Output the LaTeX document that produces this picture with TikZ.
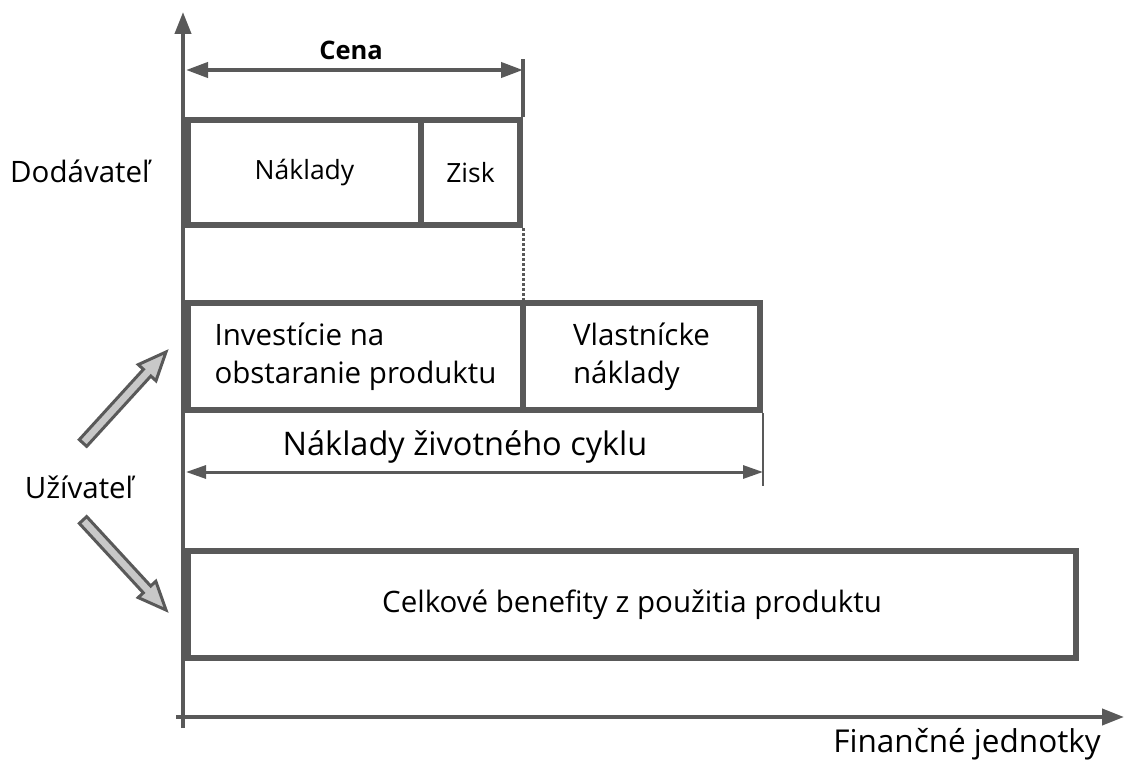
\documentclass[tikz,border=0pt]{standalone}
\usepackage{fontspec}
\setmainfont{Open Sans}
\usetikzlibrary{arrows.meta,calc}
\definecolor{ink}{HTML}{595959}
\definecolor{shaft}{HTML}{C8C8C8}

% thick outlined arrow from #1 (tail) to #2 (tip)
\newcommand\fatarrow[2]{%
  \path ($(#2)!28pt!(#1)$) coordinate (fa-b);
  \draw[hollow]
    ($(#1)!5pt!90:(#2)$) -- ($(fa-b)!5pt!90:(#2)$) -- ($(fa-b)!12pt!90:(#2)$)
    -- (#2)
    -- ($(fa-b)!12pt!-90:(#2)$) -- ($(fa-b)!5pt!-90:(#2)$) -- ($(#1)!5pt!-90:(#2)$)
    -- cycle;}

\begin{document}
\begin{tikzpicture}[x=1pt,y=-1pt,
  box/.style={draw=ink, line width=6pt, anchor=north west, inner sep=0pt,
              font=\fontsize{29.5}{38}\selectfont},
  smallbox/.style={box, font=\fontsize{26.5}{32}\selectfont},
  axis/.style={draw=ink, line width=4pt, -{Triangle[length=22pt,width=16pt]}},
  dim/.style={draw=ink, line width=4pt, {Triangle[length=22pt,width=15pt]}-{Triangle[length=22pt,width=15pt]}},
  thindim/.style={draw=ink, line width=3pt, {Triangle[length=20pt,width=13pt]}-{Triangle[length=20pt,width=13pt]}},
  label/.style={font=\fontsize{29.5}{38}\selectfont, inner sep=0pt},
  hollow/.style={draw=ink, fill=shaft, line width=3pt, line join=miter}]
\useasboundingbox (0,0) rectangle (1125,760);

% supplier: cost and profit
\node[smallbox, minimum width=233pt, minimum height=105pt] (naklady) at (185,117) {Náklady};
\node[smallbox, minimum width=99pt, minimum height=105pt] (zisk) at (418,117) {Zisk};

% user: acquisition and ownership costs
\node[box, minimum width=335pt, minimum height=107pt, align=left] (invest) at (185,300)
  {Investície na\\obstaranie produktu};
\node[box, minimum width=237pt, minimum height=107pt, align=left] (vlast) at (520,300)
  {Vlastnícke\\náklady};

% user: total benefits
\node[box, minimum width=888pt, minimum height=107pt] (benefit) at (185,548)
  {Celkové benefity z použitia produktu};

% axes
\coordinate (ybot) at (183,728);
\coordinate (ytop) at (183,12);
\coordinate (xleft) at (176,717);
\coordinate (xright) at (1124,717);
\draw[axis] (ybot) -- (ytop);
\draw[axis] (xleft) -- (xright);

% price span
\coordinate (cenaL) at (186,70);
\coordinate (cenaR) at (zisk.north east |- cenaL);
\draw[draw=ink, line width=4pt] (zisk.north east) -- ++(0,-58);
\draw[dim] (cenaL) -- (cenaR);
\node[font=\bfseries\fontsize{25.5}{30}\selectfont, inner sep=0pt] (cena) at (351,50) {Cena};
\draw[draw=ink, line width=3pt, dotted] (zisk.south east) -- (zisk.south east |- invest.north);

% life cycle span
\coordinate (lcL) at (186,472);
\coordinate (lcR) at (vlast.south east |- lcL);
\draw[draw=ink, line width=2pt] (vlast.south east) -- ++(0,73);
\draw[thindim] (lcL) -- (lcR);
\node[label, font=\fontsize{32.5}{40}\selectfont] (lc) at (465,447) {Náklady životného cyklu};

% side labels
\node[label, anchor=west] (dod) at (10,171) {Dodávateľ};
\node[label] (uziv) at (79,487) {Užívateľ};
\node[label, anchor=east, font=\fontsize{31.5}{38}\selectfont] (fin) at (1101,744) {Finančné jednotky};

% user arrows
\coordinate (ua0) at (83,443);
\coordinate (ua1) at (166,352);
\coordinate (da0) at (83,520);
\coordinate (da1) at (166,610);
\fatarrow{ua0}{ua1}
\fatarrow{da0}{da1}
\end{tikzpicture}
\end{document}
